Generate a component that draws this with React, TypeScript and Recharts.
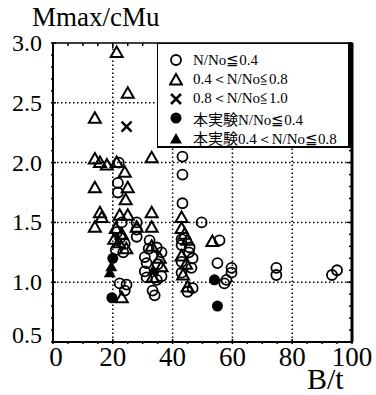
import { ReferenceArea, ReferenceLine, Scatter, ScatterChart, XAxis, YAxis } from "recharts";

// N/No <= 0.4 (open circles)
const openCircles = [
  { x: 22, y: 2.0 }, { x: 21.7, y: 1.83 }, { x: 21.7, y: 1.75 }, { x: 23, y: 1.5 },
  { x: 21.5, y: 1.42 }, { x: 22.5, y: 1.37 }, { x: 24, y: 1.32 }, { x: 21, y: 1.27 },
  { x: 23.5, y: 1.25 }, { x: 22.3, y: 0.99 }, { x: 24, y: 0.93 }, { x: 24.6, y: 0.98 },
  { x: 28, y: 1.5 }, { x: 28, y: 1.44 }, { x: 28, y: 1.38 },
  { x: 32.3, y: 1.35 }, { x: 34.7, y: 1.29 }, { x: 36.3, y: 1.25 }, { x: 30.7, y: 1.21 },
  { x: 31.3, y: 1.16 }, { x: 30.7, y: 1.09 }, { x: 31.3, y: 1.04 }, { x: 34.7, y: 1.02 },
  { x: 36.3, y: 1.05 }, { x: 34, y: 0.89 }, { x: 33.3, y: 0.93 }, { x: 35, y: 1.15 },
  { x: 32, y: 1.28 },
  { x: 43.3, y: 2.05 }, { x: 43.3, y: 1.9 }, { x: 43.3, y: 1.66 }, { x: 43, y: 1.36 },
  { x: 43, y: 1.31 }, { x: 45.7, y: 1.29 }, { x: 46.7, y: 1.2 }, { x: 43, y: 1.17 },
  { x: 46.3, y: 1.12 }, { x: 43, y: 1.08 }, { x: 45, y: 0.92 }, { x: 46.7, y: 0.95 },
  { x: 45.5, y: 1.25 },
  { x: 49.7, y: 1.5 }, { x: 55.7, y: 1.35 }, { x: 55, y: 1.16 }, { x: 59.7, y: 1.12 },
  { x: 59.7, y: 1.08 }, { x: 57.3, y: 0.99 }, { x: 58, y: 1.02 },
  { x: 74.7, y: 1.12 }, { x: 74.7, y: 1.06 }, { x: 93.3, y: 1.06 }, { x: 95, y: 1.1 },
];

// 0.4 < N/No <= 0.8 (open triangles)
const openTriangles = [
  { x: 21.3, y: 2.92 }, { x: 25, y: 2.58 }, { x: 14, y: 2.37 }, { x: 33, y: 2.04 },
  { x: 14, y: 2.03 }, { x: 15.7, y: 2.0 }, { x: 18, y: 1.98 }, { x: 21.3, y: 2.0 },
  { x: 24, y: 1.92 }, { x: 14, y: 1.79 }, { x: 25, y: 1.79 }, { x: 24.3, y: 1.69 },
  { x: 15.7, y: 1.58 }, { x: 14, y: 1.46 }, { x: 16.3, y: 1.54 }, { x: 22.3, y: 1.56 },
  { x: 25, y: 1.56 }, { x: 28, y: 1.46 }, { x: 33, y: 1.58 }, { x: 33, y: 1.46 },
  { x: 21, y: 1.45 }, { x: 23, y: 1.4 }, { x: 22, y: 1.33 }, { x: 24.5, y: 1.28 },
  { x: 20.5, y: 1.36 }, { x: 23, y: 0.87 }, { x: 33.3, y: 1.04 }, { x: 35.7, y: 1.2 },
  { x: 36.3, y: 1.13 }, { x: 33, y: 1.3 }, { x: 43, y: 1.54 }, { x: 43, y: 1.45 },
  { x: 44, y: 1.4 }, { x: 45, y: 1.35 }, { x: 43, y: 1.22 }, { x: 44.5, y: 1.15 },
  { x: 43.5, y: 1.06 }, { x: 45, y: 0.96 }, { x: 53.3, y: 1.34 },
];

// 0.8 < N/No <= 1.0 (crosses)
const crosses = [{ x: 24.6, y: 2.3 }];

// this test, N/No <= 0.4 (filled circles)
const testCircles = [
  { x: 19.7, y: 0.87 }, { x: 20, y: 1.2 }, { x: 54, y: 1.02 }, { x: 55, y: 0.8 },
];

// this test, 0.4 < N/No <= 0.8 (filled triangles)
const testTriangles = [
  { x: 19.5, y: 1.13 }, { x: 19, y: 1.08 }, { x: 33.5, y: 1.1 },
];

const xTicks = [0, 5, 10, 15, 20, 25, 30, 35, 40, 45, 50, 55, 60, 65, 70, 75, 80, 85, 90, 95, 100];
const yTicks = [0.5, 0.6, 0.7, 0.8, 0.9, 1.0, 1.1, 1.2, 1.3, 1.4, 1.5, 1.6, 1.7, 1.8, 1.9, 2.0,
  2.1, 2.2, 2.3, 2.4, 2.5, 2.6, 2.7, 2.8, 2.9, 3.0];
const xGrid = [20, 40, 60, 80];
const yGrid = [1.0, 1.5, 2.0, 2.5];

// legend: prefix in Japanese, then the range text
const legendItems = [
  { sym: "circle", pre: "", text: "N/No≦0.4" },
  { sym: "triangle", pre: "", text: "0.4＜N/No≦0.8" },
  { sym: "cross", pre: "", text: "0.8＜N/No≦1.0" },
  { sym: "fcircle", pre: "本実験", text: "N/No≦0.4" },
  { sym: "ftriangle", pre: "本実験", text: "0.4＜N/No≦0.8" },
];

const SERIF = "'Liberation Serif'";
const CJK = "'Noto Sans CJK JP'";

// plot box edges, from the chart margins below
const PLOT_TOP = 43;
const PLOT_RIGHT = 352;

const Marker = ({ kind, cx, cy }: { kind: string; cx: number; cy: number }) => {
  if (kind === "circle")
    return <circle cx={cx} cy={cy} r={5} fill="none" stroke="#000" strokeWidth={1.8} />;
  if (kind === "fcircle") return <circle cx={cx} cy={cy} r={5.5} fill="#000" />;
  if (kind === "triangle" || kind === "ftriangle") {
    const pts = `${cx},${cy - 6} ${cx - 6},${cy + 4.5} ${cx + 6},${cy + 4.5}`;
    return kind === "triangle" ? (
      <polygon points={pts} fill="none" stroke="#000" strokeWidth={2} />
    ) : (
      <polygon points={pts} fill="#000" />
    );
  }
  return (
    <g stroke="#000" strokeWidth={2.5}>
      <line x1={cx - 5} y1={cy - 5} x2={cx + 5} y2={cy + 5} />
      <line x1={cx - 5} y1={cy + 5} x2={cx + 5} y2={cy - 5} />
    </g>
  );
};

const shapeOf = (kind: string) => (p: any) => <Marker kind={kind} cx={p.cx} cy={p.cy} />;

const isMajorX = (v: number) => v % 20 === 0;
const isMajorY = (v: number) => Math.abs(v * 2 - Math.round(v * 2)) < 1e-6;

const BottomTick = ({ x, y, payload }: any) => {
  const v = payload.value;
  const len = isMajorX(v) ? 5 : 3;
  return (
    <g>
      <line x1={x} y1={y} x2={x} y2={y - len} stroke="#000" strokeWidth={1.5} />
      <line x1={x} y1={PLOT_TOP} x2={x} y2={PLOT_TOP + len} stroke="#000" strokeWidth={1.5} />
      {isMajorX(v) && (
        <text x={x + (v === 0 ? 3 : 0)} y={y + 22} textAnchor="middle" fontSize={27} fontFamily={SERIF} fill="#000">
          {v}
        </text>
      )}
    </g>
  );
};

const LeftTick = ({ x, y, payload }: any) => {
  const v = payload.value;
  const len = isMajorY(v) ? 5 : 3;
  return (
    <g>
      <line x1={x} y1={y} x2={x + len} y2={y} stroke="#000" strokeWidth={1.5} />
      <line x1={PLOT_RIGHT} y1={y} x2={PLOT_RIGHT - len} y2={y} stroke="#000" strokeWidth={1.5} />
      {isMajorY(v) && (
        <text x={x - 9} y={y + (v === 0.5 ? 1 : 8)} textAnchor="end" fontSize={24} fontFamily={SERIF} fill="#000">
          {v.toFixed(1)}
        </text>
      )}
    </g>
  );
};

const LegendSym = ({ kind }: { kind: string }) => (
  <svg width={14} height={14} style={{ display: "block" }}>
    <Marker kind={kind} cx={7} cy={kind.includes("triangle") ? 8 : 7} />
  </svg>
);

export default function App() {
  return (
    <div style={{ position: "absolute", left: 0, top: 0, width: 376, height: 395, background: "#fff" }}>
      <ScatterChart width={376} height={395} margin={{ top: PLOT_TOP, right: 376 - PLOT_RIGHT, bottom: 0, left: 0 }}>
        <XAxis
          type="number"
          dataKey="x"
          domain={[0, 100]}
          ticks={xTicks}
          interval={0}
          height={53}
          tickLine={false}
          tickSize={0}
          tick={<BottomTick />}
          axisLine={{ stroke: "#000", strokeWidth: 2 }}
        />
        <YAxis
          type="number"
          dataKey="y"
          domain={[0.5, 3.0]}
          ticks={yTicks}
          interval={0}
          width={53}
          tickLine={false}
          tickSize={0}
          tick={<LeftTick />}
          axisLine={{ stroke: "#000", strokeWidth: 2 }}
        />
        {xGrid.map((v) => (
          <ReferenceLine key={"gx" + v} x={v} stroke="#000" strokeWidth={1.5} strokeDasharray="1.5 2.5" />
        ))}
        {yGrid.map((v) => (
          <ReferenceLine key={"gy" + v} y={v} stroke="#000" strokeWidth={1.5} strokeDasharray="1.5 2.5" />
        ))}
        <ReferenceArea x1={0} x2={100} y1={0.5} y2={3.0} fill="none" stroke="#000" strokeWidth={1.5} />
        <ReferenceLine x={100} stroke="#000" strokeWidth={3} />
        <Scatter data={openTriangles} shape={shapeOf("triangle")} isAnimationActive={false} />
        <Scatter data={openCircles} shape={shapeOf("circle")} isAnimationActive={false} />
        <Scatter data={crosses} shape={shapeOf("cross")} isAnimationActive={false} />
        <Scatter data={testCircles} shape={shapeOf("fcircle")} isAnimationActive={false} />
        <Scatter data={testTriangles} shape={shapeOf("ftriangle")} isAnimationActive={false} />
      </ScatterChart>

      <div
        style={{
          position: "absolute",
          left: 32,
          top: 0,
          fontFamily: SERIF,
          fontSize: 27,
          lineHeight: "34px",
          color: "#000",
        }}
      >
        Mmax/cMu
      </div>
      <div
        style={{
          position: "absolute",
          left: 307,
          top: 364,
          fontFamily: SERIF,
          fontSize: 30,
          lineHeight: "30px",
          color: "#000",
        }}
      >
        B/t
      </div>

      <div
        style={{
          position: "absolute",
          left: 157,
          top: 43,
          width: 195,
          height: 105,
          background: "#fff",
          borderTop: "1.5px solid #000",
          borderLeft: "1.5px solid #000",
          borderBottom: "2px solid #000",
          borderRight: "4px solid #000",
          boxSizing: "border-box",
          padding: "6px 0 0 11px",
          fontFamily: SERIF,
          fontSize: 15,
          color: "#000",
        }}
      >
        {legendItems.map((it) => (
          <div key={it.sym} style={{ display: "flex", alignItems: "center", height: 19.5 }}>
            <LegendSym kind={it.sym} />
            <span style={{ marginLeft: 10, whiteSpace: "nowrap" }}>
              {it.pre && <span style={{ fontFamily: CJK }}>{it.pre}</span>}
              {it.text}
            </span>
          </div>
        ))}
      </div>
    </div>
  );
}
